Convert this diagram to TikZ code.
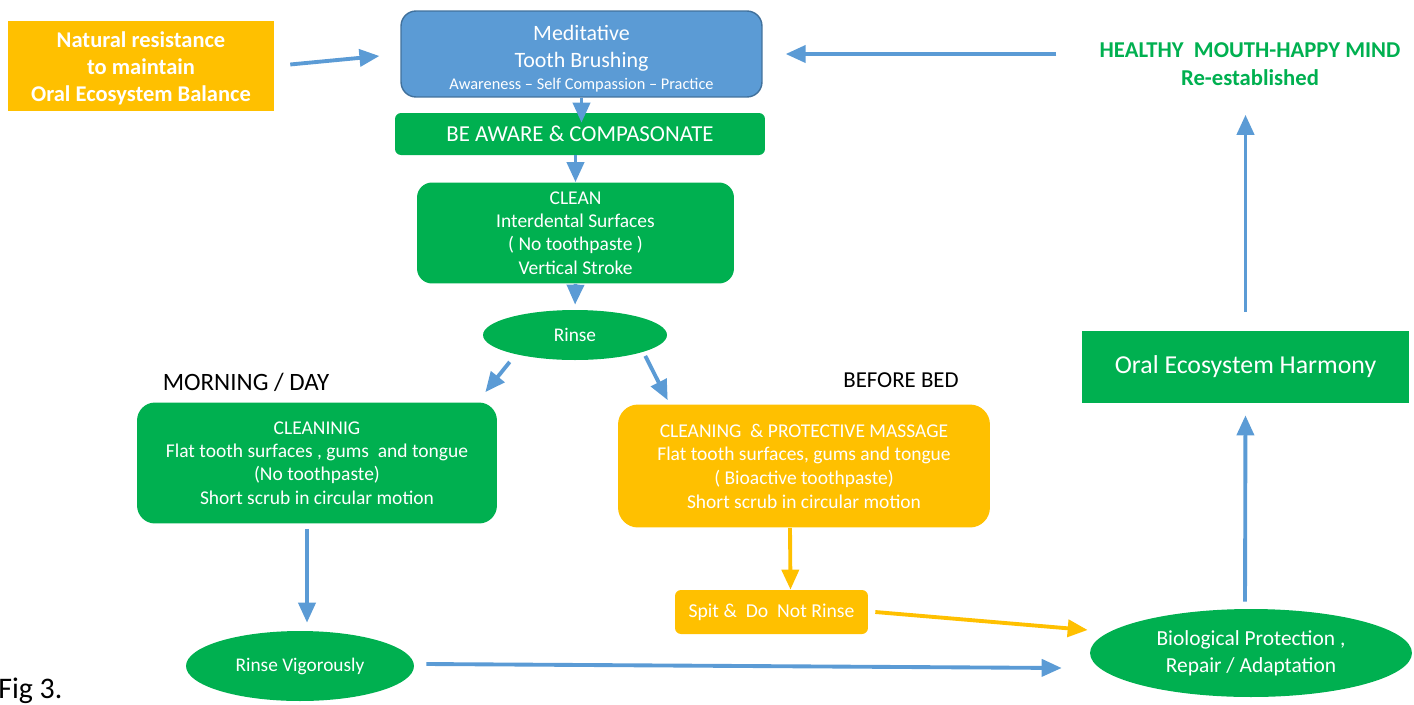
\documentclass[tikz,border=0pt]{standalone}
\usepackage{fontspec}
\setmainfont{Carlito}
\usetikzlibrary{shapes.geometric,arrows.meta}

\definecolor{oblue}{HTML}{5B9BD5}
\definecolor{oblueedge}{HTML}{41719C}
\definecolor{ogreen}{HTML}{00B050}
\definecolor{oorange}{HTML}{FFC000}

\tikzstyle{bluebox} = [rectangle, rounded corners=0.3cm, minimum width=7.22cm, minimum height=1.72cm, text centered, align=center, inner sep=0pt, draw=oblueedge, line width=0.8pt, fill=oblue, text=white]
\tikzstyle{greenbox} = [rectangle, rounded corners=0.3cm, text centered, align=center, inner sep=0pt, fill=ogreen, text=white]
\tikzstyle{orangebox} = [rectangle, rounded corners=0.4cm, text centered, align=center, inner sep=0pt, fill=oorange, text=white]
\tikzstyle{greenoval} = [ellipse, text centered, align=center, inner sep=0pt, fill=ogreen, text=white]
\tikzstyle{arrow} = [line width=2.2pt, draw=oblue, -{Triangle[length=0.4cm,width=0.34cm]}]
\tikzstyle{yarrow} = [arrow, draw=oorange]

\begin{document}
\begin{tikzpicture}[x=0.02cm, y=-0.02cm]
\useasboundingbox (0,0) rectangle (1414,704);

% Nodes
\node (resist) [orangebox, rounded corners=0pt, minimum width=5.32cm, minimum height=1.8cm, font=\bfseries\fontsize{12.8}{15.4}\selectfont] at (141,66) {\rule{0pt}{12pt}Natural resistance\\to maintain\\Oral Ecosystem Balance};
\node (meditative) [bluebox, font=\fontsize{12.5}{15.4}\selectfont] at (581.5,54) {\rule{0pt}{14pt}Meditative\\Tooth Brushing\\[-3pt]{\fontsize{9.3}{11}\selectfont Awareness -- Self Compassion -- Practice}};
\node (aware) [greenbox, rounded corners=0.12cm, minimum width=7.4cm, minimum height=0.84cm, font=\fontsize{13}{15}\selectfont] at (580,134) {BE AWARE \& COMPASONATE};
\node (clean) [greenbox, minimum width=6.34cm, minimum height=2.02cm, font=\fontsize{11.1}{13.3}\selectfont] at (575.5,233) {CLEAN\\Interdental Surfaces\\( No toothpaste )\\Vertical Stroke};
\node (rinse) [greenoval, minimum width=3.68cm, minimum height=1cm, font=\fontsize{11}{12}\selectfont] at (575,335) {Rinse};
\node (morning) [font=\fontsize{14.2}{16}\selectfont] at (246,382) {MORNING / DAY};
\node (beforebed) [font=\fontsize{13}{15}\selectfont] at (901,380) {BEFORE BED};
\node (dayclean) [greenbox, rounded corners=0.36cm, minimum width=7.2cm, minimum height=2.42cm, font=\fontsize{11.1}{13.3}\selectfont] at (317,463) {CLEANINIG\\Flat tooth surfaces , gums~ and tongue\\(No toothpaste)\\Short scrub in circular motion};
\node (nightclean) [orangebox, minimum width=7.44cm, minimum height=2.46cm, font=\fontsize{11.1}{13.5}\selectfont] at (804,466) {CLEANING~ \& PROTECTIVE MASSAGE\\Flat tooth surfaces, gums and tongue\\( Bioactive toothpaste)\\Short scrub in circular motion};
\node (spit) [orangebox, rounded corners=0.12cm, minimum width=3.86cm, minimum height=0.88cm, font=\fontsize{11.2}{13}\selectfont] at (771.5,612) {Spit \&~ Do~ Not Rinse};
\node (rinsevig) [greenoval, minimum width=4.56cm, minimum height=1.4cm, font=\fontsize{11}{13}\selectfont] at (300,666) {Rinse Vigorously};
\node (bio) [greenoval, minimum width=6.44cm, minimum height=1.76cm, font=\fontsize{12.2}{15.2}\selectfont] at (1251,653) {Biological Protection ,\\Repair / Adaptation};
\node (harmony) [greenbox, rounded corners=0pt, minimum width=6.54cm, minimum height=1.44cm, font=\fontsize{14.7}{17}\selectfont] at (1245.5,367) {Oral Ecosystem Harmony};
\node (healthy) [text=ogreen, align=center, font=\bfseries\fontsize{12.9}{16}\selectfont] at (1250,64) {HEALTHY~~MOUTH-HAPPY MIND\\Re-established};
\node (fig) [anchor=base west, inner sep=0pt, font=\fontsize{17}{20}\selectfont] at (-2,698) {Fig 3.};

% Arrows
\draw [arrow, shorten <=0.32cm, shorten >=0.42cm] (resist.east) -- (meditative.west);
\draw [arrow, shorten <=0.74cm, shorten >=0.46cm] (healthy.west |- meditative.east) -- (meditative.east);
\draw [arrow, shorten >=-0.2cm] (meditative.south) -- (meditative.south |- aware.north);
\draw [arrow] (aware.south -| clean.north) -- (clean.north);
\draw [arrow, shorten >=0.1cm] (clean.south) -- (rinse.north);
\draw [arrow] ([shift={(0,9)}]rinse.south west) -- ([shift={(-12,-10)}]dayclean.north east);
\draw [arrow] ([shift={(5,3)}]rinse.south east) -- ([shift={(50,-4)}]nightclean.north west);
\draw [arrow] ([shift={(-10,5)}]dayclean.south) -- ([shift={(7,-8)}]rinsevig.north);
\draw [arrow] ([shift={(12,-2)}]rinsevig.east) -- ([shift={(-28,15)}]bio.west);
\draw [yarrow] ([xshift=-0.28cm]nightclean.south) -- ([xshift=0.38cm]spit.north);
\draw [yarrow] ([xshift=0.14cm]spit.east) -- ([shift={(-2,-23)}]bio.west);
\draw [arrow, shorten <=0.14cm, shorten >=0.24cm] ([xshift=-0.12cm]bio.north) -- (harmony.south);
\draw [arrow, shorten <=0.38cm, shorten >=0.46cm] (harmony.north) -- (healthy.south -| harmony.north);

\end{tikzpicture}
\end{document}
